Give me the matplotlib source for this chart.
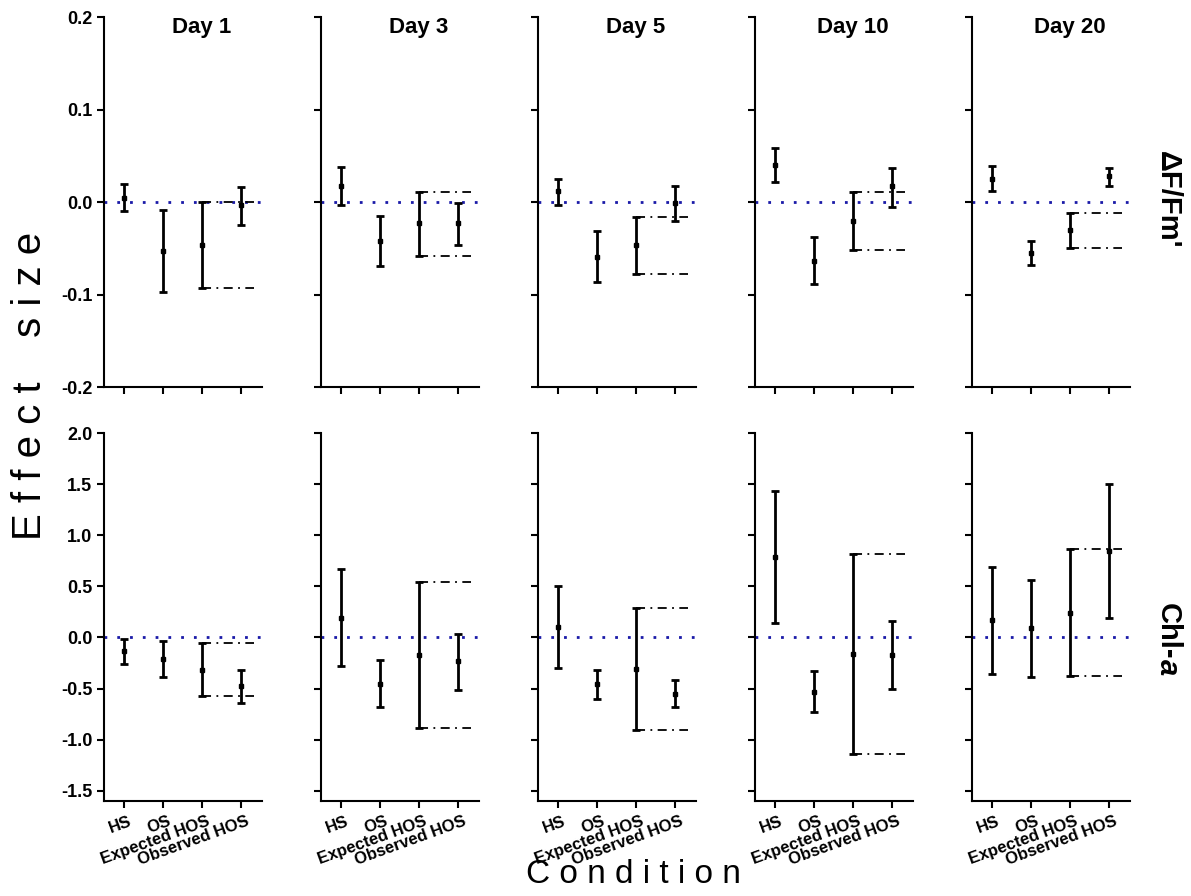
import matplotlib
matplotlib.use("Agg")
import matplotlib.pyplot as plt
import matplotlib.transforms as mtransforms

plt.rcParams['font.family'] = ['Liberation Sans', 'DejaVu Sans']

# Data
days = ['Day 1', 'Day 3', 'Day 5', 'Day 10', 'Day 20']
conditions = ['HS', 'OS', 'Expected HOS', 'Observed HOS']

# dF/Fm' effect sizes: mean, lower CI, upper CI per day
fv_mean = [[0.004, -0.053, -0.047, -0.003],
           [0.017, -0.042, -0.023, -0.023],
           [0.012, -0.059, -0.047, -0.001],
           [0.040, -0.064, -0.021, 0.017],
           [0.025, -0.055, -0.030, 0.028]]
fv_low = [[-0.010, -0.097, -0.093, -0.025],
          [-0.003, -0.069, -0.058, -0.046],
          [-0.003, -0.086, -0.078, -0.020],
          [0.022, -0.089, -0.052, -0.005],
          [0.012, -0.068, -0.050, 0.017]]
fv_high = [[0.020, -0.009, 0.000, 0.016],
           [0.038, -0.015, 0.011, -0.001],
           [0.025, -0.031, -0.016, 0.017],
           [0.058, -0.038, 0.011, 0.037],
           [0.039, -0.042, -0.012, 0.037]]

# Chl-a effect sizes
chl_mean = [[-0.137, -0.21, -0.315, -0.475],
            [0.19, -0.452, -0.169, -0.234],
            [0.10, -0.46, -0.31, -0.55],
            [0.786, -0.534, -0.16, -0.17],
            [0.166, 0.091, 0.244, 0.847]]
chl_low = [[-0.26, -0.39, -0.575, -0.64],
           [-0.283, -0.68, -0.882, -0.515],
           [-0.30, -0.60, -0.91, -0.68],
           [0.146, -0.73, -1.14, -0.505],
           [-0.358, -0.384, -0.374, 0.186]]
chl_high = [[-0.013, -0.03, -0.055, -0.32],
            [0.667, -0.225, 0.544, 0.036],
            [0.50, -0.32, 0.29, -0.42],
            [1.43, -0.33, 0.818, 0.16],
            [0.687, 0.56, 0.862, 1.50]]

fv_ticks = [-0.2, -0.1, 0.0, 0.1, 0.2]
chl_ticks = [-1.5, -1.0, -0.5, 0.0, 0.5, 1.0, 1.5, 2.0]

W, H = 1191, 896
fig = plt.figure(figsize=(W / 100, H / 100), dpi=100)

x = [1, 2, 3, 4]


def draw_panel(ax, mean, low, high):
    yerr = [[m - l for m, l in zip(mean, low)], [h - m for m, h in zip(mean, high)]]
    ax.axhline(0, color='#1a1aa8', lw=2, linestyle=(0, (1, 3.6)), zorder=1)
    ax.errorbar(x, mean, yerr=yerr, fmt='s', color='black', ms=3,
                elinewidth=2, capsize=3, capthick=2, zorder=3)
    # expected HOS interval carried over to the observed HOS
    for v in (low[2], high[2]):
        ax.plot([3, 4.35], [v, v], color='black', lw=1.3,
                linestyle=(0, (5, 3, 1, 3)), zorder=2)
    ax.set_xlim(0.49, 4.55)
    ax.set_xticks(x)
    for s in ('top', 'right'):
        ax.spines[s].set_visible(False)
    for s in ('left', 'bottom'):
        ax.spines[s].set_linewidth(1.5)
    ax.tick_params(direction='out', length=5, width=1.5)


for i, day in enumerate(days):
    left = (104 + 217 * i) / W
    ax1 = fig.add_axes([left, (H - 387) / H, 158 / W, 370 / H])
    ax2 = fig.add_axes([left, (H - 801) / H, 158 / W, 368 / H])

    draw_panel(ax1, fv_mean[i], fv_low[i], fv_high[i])
    ax1.set_ylim(-0.2, 0.2)
    ax1.set_yticks(fv_ticks)
    ax1.set_xticklabels([])
    ax1.text(0.62, 0.972, day, transform=ax1.transAxes, ha='center', va='center',
             fontsize=16, fontweight='bold')

    draw_panel(ax2, chl_mean[i], chl_low[i], chl_high[i])
    ax2.set_ylim(-1.6, 2.0)
    ax2.set_yticks(chl_ticks)
    ax2.set_xticklabels(conditions, rotation=20, ha='right', va='top',
                        fontsize=12, fontweight='bold')
    offset = mtransforms.ScaledTranslation(10 / 100, -1 / 100, fig.dpi_scale_trans)
    for lab in ax2.get_xticklabels():
        lab.set_transform(lab.get_transform() + offset)

    if i == 0:
        ax1.set_yticklabels([f'{t:.1f}' for t in fv_ticks], fontsize=13, fontweight='bold')
        ax2.set_yticklabels([f'{t:.1f}' for t in chl_ticks], fontsize=13, fontweight='bold')
    else:
        ax1.set_yticklabels([])
        ax2.set_yticklabels([])

fig.text(30 / W, (H - 386) / H, 'E f f e c t    s i z e', rotation=90,
         ha='center', va='center', fontsize=29)
fig.text(633 / W, (H - 874) / H, 'C o n d i t i o n', ha='center', va='center',
         fontsize=24)
fig.text(1168 / W, (H - 200) / H, "ΔF/Fm'", rotation=-90, ha='center', va='center',
         fontsize=21, fontweight='bold')
fig.text(1168 / W, (H - 659) / H, 'Chl-', rotation=-90, ha='center', va='bottom',
         fontsize=21, fontweight='bold')
fig.text(1168 / W, (H - 659) / H, 'a', rotation=-90, ha='center', va='top',
         fontsize=21, fontweight='bold', style='italic')

fig.savefig('out.png', dpi=100)
